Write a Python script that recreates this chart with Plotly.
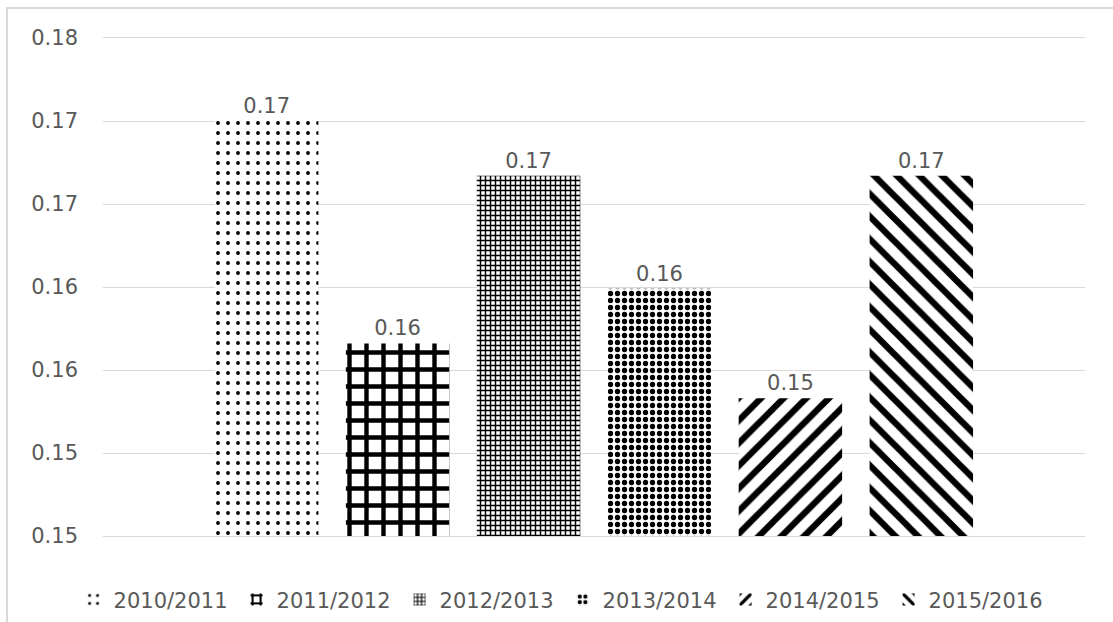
import plotly.graph_objects as go

seasons = ["2010/2011", "2011/2012", "2012/2013", "2013/2014", "2014/2015", "2015/2016"]
values = [0.1710, 0.1576, 0.1677, 0.1609, 0.1543, 0.1677]
tick_values = [0.146, 0.151, 0.156, 0.161, 0.166, 0.171, 0.176]

patterns = [
    dict(shape=".", size=10, solidity=0.12),
    dict(shape="+", size=17, solidity=0.45),
    dict(shape="+", size=5, solidity=0.5),
    dict(shape=".", size=7, solidity=0.45),
    dict(shape="/", size=16, solidity=0.4),
    dict(shape="\\", size=16, solidity=0.4),
]

FONT = "DejaVu Sans"
GREY = "#595959"
GRID = "#d9d9d9"

fig = go.Figure()
for name, v, p in zip(seasons, values, patterns):
    fig.add_trace(go.Bar(
        x=[0], y=[v], name=name,
        marker=dict(color="white", line=dict(width=0),
                    pattern=dict(fgcolor="black", bgcolor="white", fgopacity=1, **p)),
        texttemplate="%{y:.2f}", textposition="outside", cliponaxis=False,
        textfont=dict(family=FONT, size=21, color=GREY),
    ))

fig.update_layout(
    width=1113, height=622,
    margin=dict(l=103, r=28, t=38, b=86, autoexpand=False),
    paper_bgcolor="white", plot_bgcolor="white",
    barmode="group", bargap=0.2, bargroupgap=0.21,
    font=dict(family=FONT, size=21, color=GREY),
    showlegend=True,
    legend=dict(orientation="h", x=0.468, xanchor="center", y=-0.128, yanchor="middle",
                entrywidth=118, entrywidthmode="pixels",
                font=dict(family=FONT, size=21, color=GREY), itemclick=False),
    xaxis=dict(range=[-0.5, 0.5], showticklabels=False, showgrid=False, zeroline=False,
               showline=True, linecolor=GRID, linewidth=1, mirror=True, ticks=""),
    yaxis=dict(range=[0.146, 0.176], tickvals=tick_values, tickformat=".2f",
               showgrid=True, gridcolor=GRID, gridwidth=1, zeroline=False,
               showline=False, ticks="", ticklabelstandoff=24, automargin=False,
               tickfont=dict(family=FONT, size=21, color=GREY)),
)

fig.add_shape(type="rect", xref="paper", yref="paper",
              x0=(7 - 103) / 982, x1=(1130 - 103) / 982,
              y0=(536 - 640) / 498, y1=(536 - 8) / 498,
              line=dict(color=GRID, width=2), fillcolor="rgba(0,0,0,0)", layer="below")

fig.write_html("out.html", config={"displayModeBar": False},
               post_script="document.body.style.margin='0';document.body.style.overflow='hidden';")
